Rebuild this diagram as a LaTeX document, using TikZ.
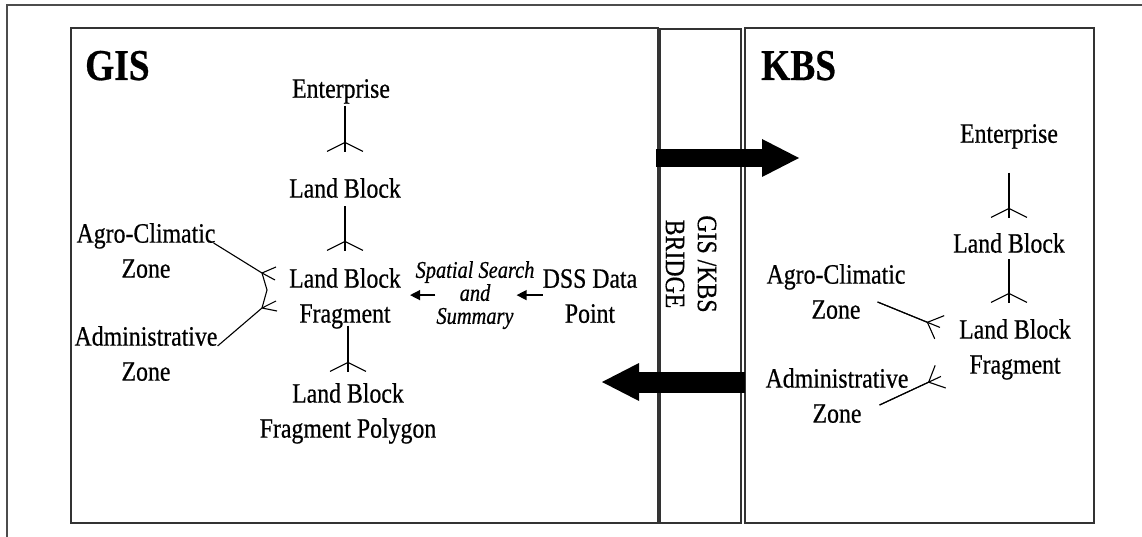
\documentclass[tikz,border=0pt]{standalone}
\usepackage{fontspec}
\setmainfont{Liberation Serif}[FakeStretch=0.85, FakeBold=0.6]
\usetikzlibrary{arrows.meta}

\begin{document}
\begin{tikzpicture}[
  x=1pt, y=-1pt,
  every node/.style={inner sep=0pt},
  lbl/.style   ={font=\fontsize{28}{35}\selectfont, align=center, anchor=north},
  ttl/.style   ={font=\fontsize{44}{50}\selectfont\bfseries, anchor=base west},
  srch/.style  ={font=\fontsize{24}{23}\selectfont\itshape, align=center,
                 anchor=north},
  panel/.style ={draw=black!80, line width=1.8pt},
  conn/.style  ={line width=1.1pt},
  crow/.style  ={conn, -{Straight Barb[reversed,length=9pt,width=36pt]},
                 postaction={draw, arrows=-}},
  crowS/.style ={conn, -{Straight Barb[reversed,length=13pt,width=25pt]},
                 postaction={draw, arrows=-}},
  sarr/.style  ={line width=1.3pt, -{Triangle[length=10pt,width=10pt]}},
  barr/.style  ={-{Triangle[length=37pt,width=38pt,line width=0pt]}},
]
\useasboundingbox (0,0) rectangle (1142,537);

% outer frame
\draw[black!70, line width=1.5pt] (7,537) -- (7,5) -- (1142,5);

%% ---- panels ---------------------------------------------------------
\node[panel, minimum width=587pt, minimum height=495pt] (gis) at (364.5,275.5) {};
\node[panel, minimum width=81pt,  minimum height=494pt] (bridge) at (700.5,276) {};
\node[panel, minimum width=349pt, minimum height=495pt] (kbs) at (919.5,275.5) {};

\node[lbl, anchor=center, rotate=-90, font=\fontsize{28}{32}\selectfont]
     (brtxt) at (691,264) {GIS /KBS\\BRIDGE};

%% ---- GIS side -------------------------------------------------------
\node[ttl] (gistl) at (85,80) {GIS};

\node[lbl] (ent)   at (341,79)  {Enterprise};
\node[lbl] (lb)    at (345,178) {Land Block};
\node[lbl] (lbf)   at (345,268) {Land Block\\Fragment};
\node[lbl] (lbfp)  at (348,383) {Land Block\\Fragment Polygon};
\node[lbl] (agro)  at (146,223) {Agro-Climatic\\Zone};
\node[lbl] (admin) at (146,326) {Administrative\\Zone};
\node[srch] (sss)  at (475,261) {Spatial Search\\and\\Summary};
\node[lbl] (dss)   at (590,269) {DSS Data\\Point};

\draw[crow, shorten <=2pt, shorten >=26pt] (lb.north |- ent.south) -- (lb.north);
\draw[crow, shorten <=8pt, shorten >=17pt] (lbf.north |- lb.south) -- (lbf.north);
\draw[crow, shorten <=-3pt, shorten >=11pt] (lbfp.north |- lbf.south) -- (lbfp.north);

% zones meet the fragment
\coordinate (ga) at (262,273);
\coordinate (gj) at (267,290);
\coordinate (gb) at (262,308);
\draw[conn] ([shift={(-2,20)}]agro.north east) -- (ga) -- (gj) -- (gb)
            -- ([shift={(0,20)}]admin.north east);
\draw[conn] (ga) -- ++(14,-6) (ga) -- ++(13,7);
\draw[conn] (gb) -- ++(15,3) (gb) -- ++(14,-7);

\draw[sarr, shorten >=-18pt] (dss.west |- sss.center) -- (sss.east);
\draw[sarr, shorten >=9pt] ([xshift=20pt]sss.west) -- (lbf.east |- sss.west);

%% ---- KBS side -------------------------------------------------------
\node[ttl] (kbstl) at (761,80) {KBS};

\node[lbl] (kent)   at (1009,124) {Enterprise};
\node[lbl] (klb)    at (1009,233) {Land Block};
\node[lbl] (klbf)   at (1015,319) {Land Block\\Fragment};
\node[lbl] (kagro)  at (836,264)  {Agro-Climatic\\Zone};
\node[lbl] (kadmin) at (837,368)  {Administrative\\Zone};

\draw[crow, shorten <=24pt, shorten >=15pt] (kent.south) -- (kent.south |- klb.north);
\draw[crow, shorten <=6pt, shorten >=16pt] (klb.south) -- (klb.south |- klbf.north);
\draw[crowS] ([shift={(-28,38)}]kagro.north east) -- ([shift={(-19,-22)}]klbf.west);
\draw[crowS] ([shift={(-29,37)}]kadmin.north east) -- ([shift={(-18,27)}]klbf.west);

%% ---- transfer arrows ------------------------------------------------
\coordinate (toK1) at (656,158);
\coordinate (toK2) at (799,158);
\draw[barr, line width=18pt] (toK1) -- (toK2);
\coordinate (toG1) at (745,382);
\coordinate (toG2) at (602,382);
\draw[barr, line width=21pt] (toG1) -- (toG2);

\end{tikzpicture}
\end{document}
